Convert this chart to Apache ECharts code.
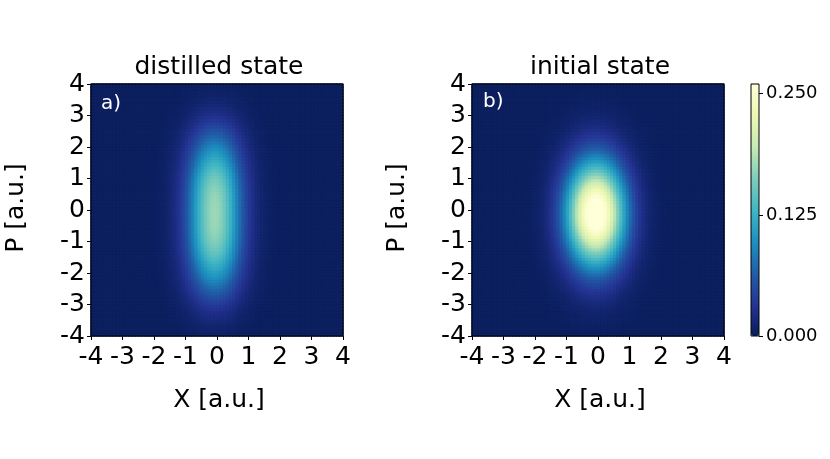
<!DOCTYPE html>
<html>
<head>
<meta charset="utf-8">
<script src="https://cdn.jsdelivr.net/npm/echarts@6/dist/echarts.min.js"></script>
<style>
html, body { margin: 0; padding: 0; background: #fff; }
#chart { width: 830px; height: 459px; }
</style>
</head>
<body>
<div id="chart"></div>
<script>
// cell centres of the two maps (every 0.1 in X and in P)
var xCenters = [-3.95,-3.85,-3.75,-3.65,-3.55,-3.45,-3.35,-3.25,-3.15,-3.05,
  -2.95,-2.85,-2.75,-2.65,-2.55,-2.45,-2.35,-2.25,-2.15,-2.05,
  -1.95,-1.85,-1.75,-1.65,-1.55,-1.45,-1.35,-1.25,-1.15,-1.05,
  -0.95,-0.85,-0.75,-0.65,-0.55,-0.45,-0.35,-0.25,-0.15,-0.05,
  0.05,0.15,0.25,0.35,0.45,0.55,0.65,0.75,0.85,0.95,
  1.05,1.15,1.25,1.35,1.45,1.55,1.65,1.75,1.85,1.95,
  2.05,2.15,2.25,2.35,2.45,2.55,2.65,2.75,2.85,2.95,
  3.05,3.15,3.25,3.35,3.45,3.55,3.65,3.75,3.85,3.95];
var pCenters = xCenters.slice();

// a) distilled state : profiles (relative to the peak)
var xProfileA = [0,0,0,0,0,0,0,0,0,0, 0,0,0,0,0,0,0,
  0.001,0.002,0.004,0.007,0.011,0.018,0.029,0.044,0.066,0.096,
  0.135,0.186,0.249,0.325,0.411,0.506,0.607,0.707,0.801,0.883,0.946,0.986,1.0,
  0.986,0.946,0.883,0.801,0.707,0.607,0.506,0.411,0.325,0.249,0.186,
  0.135,0.096,0.066,0.044,0.029,0.018,0.011,0.007,0.004,0.002,0.001,
  0,0,0,0,0,0,0,0,0,0, 0,0,0,0,0,0,0,0];
var pProfileA = [0.028,0.035,0.045,0.057,0.072,0.09,0.11,0.134,0.161,0.19,
  0.224,0.26,0.30,0.34,0.38,0.421,0.464,0.506,0.549,0.589,
  0.626,0.664,0.701,0.739,0.777,0.811,0.844,0.873,0.898,0.92,
  0.94,0.956,0.969,0.979,0.987,0.993,0.998,1.0,1.0,1.0,
  1.0,0.998,0.993,0.987,0.979,0.969,0.956,0.94,0.92,0.898,
  0.873,0.844,0.811,0.777,0.739,0.701,0.664,0.626,0.589,0.549,
  0.506,0.464,0.421,0.38,0.34,0.30,0.26,0.224,0.19,0.161,
  0.134,0.11,0.09,0.072,0.057,0.045,0.035,0.028,0.022,0.018];
var peakA = 0.172;

// b) initial state (core saturates the colour scale)
var xProfileB = [0,0,0,0,0,0,0,0,0,0, 0,0,0,0,0,
  0.001,0.002,0.004,0.006,0.010,0.016,0.024,0.036,0.053,0.075,
  0.105,0.144,0.191,0.249,0.317,0.395,0.480,0.570,0.662,0.750,
  0.832,0.902,0.955,0.989,1.0,
  0.989,0.955,0.902,0.832,0.750,0.662,0.570,0.480,0.395,0.317,
  0.249,0.191,0.144,0.105,0.075,0.053,0.036,0.024,0.016,0.010,
  0.006,0.004,0.002,0.001,
  0,0,0,0,0,0,0,0,0,0, 0,0,0,0,0,0];
var pProfileB = [0.005,0.006,0.008,0.011,0.014,0.018,0.022,0.028,0.035,
  0.044,0.054,0.066,0.080,0.097,0.116,0.138,0.162,0.190,0.221,
  0.255,0.293,0.333,0.376,0.422,0.470,0.520,0.570,0.622,0.673,
  0.723,0.771,0.817,0.859,0.897,0.930,0.957,0.978,0.992,0.999,
  0.999,0.992,0.978,0.957,0.930,0.897,0.859,0.817,0.771,0.723,
  0.673,0.622,0.570,0.520,0.470,0.422,0.376,0.333,0.293,0.255,
  0.221,0.190,0.162,0.138,0.116,0.097,0.080,0.066,0.054,0.044,
  0.035,0.028,0.022,0.018,0.014,0.011,0.008,0.006,0.005,0.004,0.003];
var peakB = 0.28;

var background = 0.004;
var barTicks = [0, 0.125, 0.25];
var barMax = 0.26;

// YlGnBu reversed
var palette = ['#081d58','#253494','#225ea8','#1d91c0','#41b6c4','#7fcdbb','#c7e9b4','#edf8b1','#ffffd9'];

function hexRgb(h) {
    return [parseInt(h.substr(1, 2), 16), parseInt(h.substr(3, 2), 16), parseInt(h.substr(5, 2), 16)];
}
var paletteRgb = palette.map(hexRgb);

// same mapping as the colour bar, clipped at both ends
function colourOf(v) {
    var t = Math.max(0, Math.min(1, v / barMax)) * (palette.length - 1);
    var i = Math.min(Math.floor(t), palette.length - 2), f = t - i;
    var a = paletteRgb[i], b = paletteRgb[i + 1];
    return 'rgb(' + Math.round(a[0] + (b[0] - a[0]) * f) + ',' +
        Math.round(a[1] + (b[1] - a[1]) * f) + ',' + Math.round(a[2] + (b[2] - a[2]) * f) + ')';
}

function buildCells(xp, pp, peak) {
    var out = [];
    for (var i = 0; i < xCenters.length; i++) {
        for (var j = 0; j < pCenters.length; j++) {
            var v = background + peak * xp[i] * pp[j];
            var c = colourOf(v);
            out.push({value: [i, j, v], itemStyle: {color: c, borderColor: c, borderWidth: 0.8}});
        }
    }
    return out;
}

var font = 'DejaVu Sans';
var panels = [91, 472];   // left edge of each map
var top0 = 84, size = 252;

var grids = [], xAxes = [], yAxes = [], series = [];
panels.forEach(function(left, k) {
    grids.push({left: left, top: top0, width: size, height: size, containLabel: false,
        show: true, backgroundColor: '#081d58', borderWidth: 0});
    grids.push({left: left, top: top0, width: size, height: size, containLabel: false,
        show: true, borderColor: '#000', borderWidth: 1, backgroundColor: 'transparent', z: 10});
    xAxes.push({gridIndex: 2 * k, type: 'category', data: xCenters, show: false});
    yAxes.push({gridIndex: 2 * k, type: 'category', data: pCenters, show: false});
    xAxes.push({
        gridIndex: 2 * k + 1, type: 'value', min: -4, max: 4, interval: 1, position: 'bottom',
        axisLine: {show: false, onZero: false}, splitLine: {show: false},
        axisTick: {show: true, length: 4, lineStyle: {color: '#000', width: 1}},
        axisLabel: {color: '#000', fontFamily: font, fontSize: 25, margin: 9}
    });
    yAxes.push({
        gridIndex: 2 * k + 1, type: 'value', min: -4, max: 4, interval: 1, position: 'left',
        axisLine: {show: false, onZero: false}, splitLine: {show: false},
        axisTick: {show: true, length: 4, lineStyle: {color: '#000', width: 1}},
        axisLabel: {color: '#000', fontFamily: font, fontSize: 25, margin: 6}
    });
    series.push({
        type: 'heatmap',
        xAxisIndex: 2 * k, yAxisIndex: 2 * k,
        data: k === 0 ? buildCells(xProfileA, pProfileA, peakA) : buildCells(xProfileB, pProfileB, peakB),
        progressive: 0,
        emphasis: {disabled: true},
        silent: true
    });
});

// colour bar frame + ticks
grids.push({left: 751, top: top0, width: 8, height: size, show: true,
    borderColor: '#000', borderWidth: 1, backgroundColor: 'transparent', z: 10});
xAxes.push({gridIndex: 4, type: 'value', show: false, min: 0, max: 1});
yAxes.push({
    gridIndex: 4, type: 'value', position: 'right', min: 0, max: barMax,
    axisLine: {show: false, onZero: false}, splitLine: {show: false},
    axisTick: {show: true, length: 4, customValues: barTicks, lineStyle: {color: '#000'}},
    axisLabel: {color: '#000', fontFamily: font, fontSize: 18, margin: 7, customValues: barTicks,
        formatter: function(v) { return v.toFixed(3); }}
});

function label(txt, x, y, opts) {
    opts = opts || {};
    return {
        type: 'text', x: x, y: y, rotation: opts.rotation || 0, z: 20,
        style: {
            text: txt, fill: opts.color || '#000',
            font: (opts.size || 25) + 'px "' + font + '"',
            textAlign: opts.align || 'center', textVerticalAlign: 'middle'
        }
    };
}

var myChart = echarts.init(document.getElementById('chart'));
myChart.setOption({
    animation: false,
    backgroundColor: '#fff',
    grid: grids,
    xAxis: xAxes,
    yAxis: yAxes,
    visualMap: {
        type: 'continuous', min: 0, max: barMax, seriesIndex: [],
        inRange: {color: palette},
        left: 751, top: top0, itemWidth: 8, itemHeight: size,
        padding: 0, calculable: false, hoverLink: false, text: null,
        orient: 'vertical'
    },
    series: series,
    graphic: [
        label('distilled state', 219, 67),
        label('initial state', 600, 67),
        label('X [a.u.]', 219, 400),
        label('X [a.u.]', 600, 400),
        label('P [a.u.]', 16, 208, {rotation: Math.PI / 2}),
        label('P [a.u.]', 397, 208, {rotation: Math.PI / 2}),
        label('a)', 101, 104, {color: '#fff', size: 20, align: 'left'}),
        label('b)', 483, 102, {color: '#fff', size: 20, align: 'left'})
    ]
});
</script>
</body>
</html>
